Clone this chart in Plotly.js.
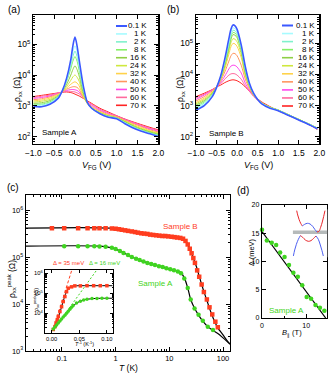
<!DOCTYPE html>
<html>
<head>
<meta charset="utf-8">
<script src="https://cdn.plot.ly/plotly-3.0.1.min.js"></script>
<style>
  html, body { margin: 0; padding: 0; background: #fff; }
  #fig { width: 332px; height: 390px; }
</style>
</head>
<body>
<div id="fig"></div>
<script>
// Gate-voltage sweeps (log10 of rho_xx), one row per temperature
const temps = ["0.1", "1", "2", "8", "16", "24", "32", "40", "50", "60", "70"];
const tempColors = ["#3b58ff", "#a6fbff", "#80f2cc", "#86f066", "#8fcf45", "#cfe83e",
                    "#ffd24a", "#ff9660", "#ff48ec", "#ff6a9e", "#ff2424"];

const vgA = [-1, -0.8, -0.6, -0.4, -0.3, -0.2, -0.1, -0.05, 0, 0.05, 0.1, 0.2, 0.3, 0.4, 0.6, 0.8, 1.0, 1.2, 1.5, 1.8, 2.0];
const logRhoA = [
  [2.98, 2.97, 3.05, 3.25, 3.5, 3.9, 4.5, 4.95, 5.23, 4.95, 4.5, 3.65, 3.1, 2.92, 2.74, 2.63, 2.58, 2.42, 2.22, 2.09, 2.0],
  [3.0, 3.0, 3.08, 3.28, 3.5, 3.85, 4.4, 4.75, 4.95, 4.75, 4.35, 3.6, 3.1, 2.92, 2.75, 2.64, 2.59, 2.44, 2.24, 2.1, 2.02],
  [3.02, 3.03, 3.1, 3.3, 3.5, 3.82, 4.3, 4.6, 4.78, 4.6, 4.25, 3.55, 3.1, 2.92, 2.75, 2.65, 2.6, 2.45, 2.25, 2.11, 2.04],
  [3.05, 3.06, 3.13, 3.32, 3.5, 3.8, 4.2, 4.45, 4.6, 4.45, 4.15, 3.5, 3.1, 2.93, 2.76, 2.66, 2.6, 2.46, 2.27, 2.13, 2.06],
  [3.08, 3.1, 3.17, 3.33, 3.48, 3.7, 4.0, 4.18, 4.3, 4.18, 3.97, 3.42, 3.08, 2.93, 2.77, 2.67, 2.61, 2.48, 2.29, 2.15, 2.08],
  [3.12, 3.15, 3.21, 3.35, 3.46, 3.63, 3.83, 3.94, 4.0, 3.93, 3.8, 3.35, 3.07, 2.94, 2.78, 2.68, 2.62, 2.5, 2.31, 2.17, 2.1],
  [3.16, 3.19, 3.25, 3.37, 3.46, 3.58, 3.7, 3.75, 3.78, 3.74, 3.65, 3.3, 3.07, 2.95, 2.8, 2.7, 2.63, 2.51, 2.34, 2.19, 2.12],
  [3.2, 3.23, 3.29, 3.39, 3.46, 3.54, 3.6, 3.62, 3.62, 3.6, 3.53, 3.28, 3.1, 2.98, 2.83, 2.72, 2.65, 2.53, 2.37, 2.22, 2.15],
  [3.24, 3.27, 3.32, 3.41, 3.46, 3.5, 3.53, 3.53, 3.52, 3.5, 3.45, 3.28, 3.12, 3.02, 2.86, 2.75, 2.66, 2.55, 2.39, 2.25, 2.17],
  [3.27, 3.31, 3.35, 3.42, 3.45, 3.47, 3.47, 3.46, 3.45, 3.42, 3.39, 3.27, 3.14, 3.05, 2.89, 2.77, 2.67, 2.56, 2.41, 2.27, 2.2],
  [3.3, 3.34, 3.38, 3.42, 3.44, 3.45, 3.43, 3.41, 3.38, 3.35, 3.32, 3.24, 3.16, 3.08, 2.92, 2.8, 2.68, 2.57, 2.43, 2.3, 2.22]
];

const vgB = [-1, -0.8, -0.6, -0.5, -0.4, -0.3, -0.2, -0.15, -0.1, -0.05, 0, 0.1, 0.2, 0.3, 0.4, 0.5, 0.6, 0.8, 1.0, 1.2, 1.5, 1.8, 1.95];
const logRhoB = [
  [2.86, 3.0, 3.3, 3.58, 3.95, 4.5, 5.15, 5.45, 5.59, 5.56, 5.45, 4.95, 4.25, 3.72, 3.4, 3.2, 3.06, 2.92, 2.84, 2.72, 2.54, 2.36, 2.26],
  [2.9, 3.04, 3.32, 3.58, 3.93, 4.45, 5.05, 5.35, 5.5, 5.47, 5.37, 4.9, 4.2, 3.7, 3.39, 3.2, 3.07, 2.93, 2.85, 2.73, 2.55, 2.37, 2.27],
  [2.94, 3.08, 3.35, 3.59, 3.92, 4.4, 4.97, 5.27, 5.42, 5.4, 5.3, 4.85, 4.15, 3.68, 3.38, 3.2, 3.08, 2.94, 2.85, 2.73, 2.55, 2.37, 2.27],
  [2.98, 3.12, 3.38, 3.59, 3.9, 4.35, 4.9, 5.2, 5.35, 5.33, 5.24, 4.8, 4.1, 3.66, 3.37, 3.2, 3.08, 2.94, 2.86, 2.74, 2.56, 2.38, 2.28],
  [3.02, 3.16, 3.4, 3.6, 3.88, 4.3, 4.85, 5.13, 5.28, 5.26, 5.18, 4.75, 4.05, 3.64, 3.36, 3.2, 3.08, 2.95, 2.86, 2.74, 2.56, 2.38, 2.28],
  [3.06, 3.2, 3.42, 3.6, 3.86, 4.25, 4.76, 5.02, 5.15, 5.13, 5.05, 4.65, 4.0, 3.62, 3.36, 3.2, 3.09, 2.95, 2.86, 2.74, 2.56, 2.38, 2.28],
  [3.1, 3.24, 3.45, 3.6, 3.84, 4.18, 4.65, 4.89, 5.0, 4.98, 4.9, 4.55, 3.95, 3.6, 3.35, 3.2, 3.09, 2.95, 2.86, 2.74, 2.56, 2.37, 2.27],
  [3.15, 3.29, 3.48, 3.6, 3.8, 4.08, 4.43, 4.6, 4.68, 4.67, 4.6, 4.3, 3.85, 3.55, 3.33, 3.19, 3.09, 2.95, 2.85, 2.73, 2.55, 2.37, 2.26],
  [3.2, 3.34, 3.5, 3.6, 3.75, 3.95, 4.18, 4.27, 4.3, 4.29, 4.24, 4.05, 3.72, 3.5, 3.32, 3.19, 3.09, 2.95, 2.85, 2.73, 2.55, 2.36, 2.25],
  [3.25, 3.37, 3.51, 3.6, 3.7, 3.85, 3.98, 4.02, 4.03, 4.02, 3.98, 3.85, 3.63, 3.46, 3.3, 3.18, 3.08, 2.95, 2.85, 2.72, 2.54, 2.36, 2.25],
  [3.29, 3.4, 3.52, 3.6, 3.66, 3.74, 3.8, 3.82, 3.83, 3.82, 3.8, 3.72, 3.6, 3.47, 3.35, 3.22, 3.12, 2.97, 2.84, 2.72, 2.55, 2.36, 2.24]
];

// Peak resistivity vs temperature
const tB = [0.065, 0.11, 0.2, 0.3, 0.4, 0.5, 0.65, 0.85, 1.0, 1.15, 1.3, 1.5, 1.7, 2.0, 2.3, 2.6, 3.0, 3.4, 3.9, 4.4, 5.0, 5.7, 6.5, 7.4, 8.4, 9.5, 11, 12.5, 14, 16, 18, 20, 22, 24, 26, 28, 30, 33, 36, 40, 44, 50, 56, 63, 72, 80];
const peakB = [4.1e5, 4.1e5, 4.1e5, 4.1e5, 4.1e5, 4.1e5, 4.1e5, 4.05e5, 4.0e5, 3.9e5, 3.8e5, 3.7e5, 3.6e5, 3.5e5, 3.4e5, 3.3e5, 3.2e5, 3.15e5, 3.1e5, 3.0e5, 2.95e5, 2.9e5, 2.85e5, 2.8e5, 2.8e5, 2.75e5, 2.7e5, 2.65e5, 2.6e5, 2.55e5, 2.45e5, 2.2e5, 1.85e5, 1.5e5, 1.2e5, 9.5e4, 7.5e4, 5.2e4, 3.8e4, 2.6e4, 1.8e4, 1.25e4, 8.5e3, 6.0e3, 4.2e3, 3.2e3];
const tFitB = [0.021, 1, 2, 5, 10, 15, 18, 20, 22, 25, 28, 32, 36, 40, 45, 50, 60, 70, 80, 100, 120, 135];
const peakFitB = [4.1e5, 4.05e5, 3.5e5, 2.95e5, 2.75e5, 2.6e5, 2.45e5, 2.25e5, 1.9e5, 1.35e5, 9.5e4, 6.2e4, 3.9e4, 2.6e4, 1.7e4, 1.2e4, 6.5e3, 4.2e3, 3.1e3, 2.2e3, 1.65e3, 1.4e3];

const tA = [0.11, 0.2, 0.3, 0.4, 0.5, 0.65, 0.85, 1.0, 1.2, 1.4, 1.7, 2.0, 2.4, 2.8, 3.3, 3.9, 4.6, 5.4, 6.4, 7.5, 8.8, 10.4, 12.2, 14.4, 16.5, 19, 22, 25, 29.5, 35, 42, 52, 65];
const peakA = [1.7e5, 1.7e5, 1.7e5, 1.7e5, 1.68e5, 1.65e5, 1.57e5, 1.48e5, 1.35e5, 1.22e5, 1.1e5, 1.0e5, 9.2e4, 8.6e4, 8.0e4, 7.5e4, 7.1e4, 6.8e4, 6.4e4, 6.1e4, 5.8e4, 5.5e4, 5.2e4, 4.9e4, 4.5e4, 3.5e4, 2.2e4, 1.25e4, 8.0e3, 5.9e3, 4.4e3, 3.3e3, 2.8e3];
const tFitA = [0.021, 0.5, 0.8, 1.2, 2, 3, 5, 8, 12, 16, 19, 22, 25, 30, 35, 42, 52, 65, 80, 100, 135];
const peakFitA = [1.7e5, 1.7e5, 1.58e5, 1.35e5, 1.0e5, 8.3e4, 7.0e4, 6.0e4, 5.3e4, 4.8e4, 3.6e4, 2.2e4, 1.25e4, 7.8e3, 5.8e3, 4.3e3, 3.3e3, 2.75e3, 2.35e3, 1.9e3, 1.4e3];

// Arrhenius inset (x = 1/T)
const invTB = [0.003, 0.006, 0.008, 0.0103, 0.012, 0.015, 0.018, 0.021, 0.024, 0.027, 0.03, 0.036, 0.042, 0.052, 0.064, 0.076, 0.088, 0.1];
const insetB = [1.5e3, 2.1e3, 3.2e3, 4.7e3, 6.8e3, 1.2e4, 2.1e4, 3.8e4, 6.8e4, 1.2e5, 1.8e5, 2.1e5, 2.35e5, 2.35e5, 2.4e5, 2.4e5, 2.4e5, 2.4e5];
const invTFitB = [0.003, 0.01, 0.02, 0.025, 0.03, 0.035, 0.04, 0.05, 0.06, 0.08, 0.11];
const insetFitB = [1.5e3, 4.0e3, 3.2e4, 8.9e4, 1.66e5, 2.1e5, 2.3e5, 2.4e5, 2.4e5, 2.4e5, 2.4e5];
const invTA = [0.003, 0.006, 0.009, 0.012, 0.015, 0.018, 0.021, 0.024, 0.027, 0.03, 0.033, 0.036, 0.039, 0.045, 0.052, 0.058, 0.064, 0.073, 0.082, 0.091, 0.1];
const insetA = [1.6e3, 2.0e3, 2.5e3, 3.2e3, 4.0e3, 5.0e3, 6.3e3, 7.9e3, 1.0e4, 1.26e4, 1.58e4, 2.0e4, 2.4e4, 3.2e4, 4.0e4, 4.6e4, 5.0e4, 5.4e4, 5.5e4, 5.6e4, 5.6e4];
const invTFitA = [0.003, 0.01, 0.02, 0.03, 0.04, 0.05, 0.06, 0.07, 0.08, 0.1, 0.11];
const insetFitA = [1.4e3, 2.5e3, 5.6e3, 1.26e4, 2.5e4, 3.8e4, 4.8e4, 5.2e4, 5.5e4, 5.6e4, 5.6e4];
const gapX = [0.002, 0.038, 0.085];
const gapRho = [1.26e3, 2.0e6, 2.0e6];
const gapLabels = ["Δ = 35 meV", "Δ = 16 meV"];

// Gap vs in-plane field
const bPar = [0, 1.1, 2.2, 3.2, 4.1, 5.1, 6.1, 7.1, 8.1, 9.1, 10.1, 11.1, 12.1, 13.1, 14.1];
const gapMeV = [15.6, 13.7, 13.3, 12.9, 11.6, 10.8, 9.4, 8.0, 7.3, 5.8, 3.7, 3.4, 2.3, 1.8, 1.3];
const bFit = [0, 14.4];
const gapFit = [15.3, 0];

// Band sketch in panel (d), arbitrary units
const upperL = { x: [20, 23, 27, 32, 37], y: [32, 45, 58, 70, 78] };
const upperM = { x: [37, 44, 52, 60, 68, 75, 81], y: [78, 73, 70, 72, 79, 89, 96] };
const upperR = { x: [81, 87, 92, 97, 101, 105], y: [96, 94, 82, 66, 50, 32] };
const lowerL = { x: [10, 14, 19, 25, 31], y: [168, 150, 133, 118, 107] };
const lowerM = { x: [31, 38, 46, 55, 63, 71, 78], y: [107, 112, 120, 124, 122, 115, 108] };
const lowerR = { x: [78, 85, 91, 96, 100], y: [108, 118, 135, 152, 168] };
const fermiX = [8, 112];
const fermiY = [97, 97];

const RED = "#ff3d1f", GREEN = "#3fd420";
const FONT = "Liberation Sans, Arial, sans-serif";
const W = 332, H = 390;
const px = x => x / W;
const py = y => 1 - y / H;
const dom = (a, b) => [px(a), px(b)];
const domY = (top, bot) => [py(bot), py(top)];
const sup = n => "10<sup>" + n + "</sup>";

function frame(extra) {
  return Object.assign({
    showline: true, linecolor: "black", linewidth: 1.3, mirror: "ticks",
    ticks: "inside", ticklen: 4, tickwidth: 1, tickcolor: "black",
    showgrid: false, zeroline: false, fixedrange: true,
    tickfont: { family: FONT, size: 8.5, color: "black" },
  }, extra);
}
const minorLog = { ticks: "inside", ticklen: 2, tickcolor: "black", dtick: "D1", showgrid: false };

const traces = [];

// (a) and (b): draw hottest first so the 0.1 K curve sits on top
for (let i = temps.length - 1; i >= 0; i--) {
  const w = i === 0 ? 1.6 : 1.0;
  traces.push({
    x: vgA, y: logRhoA[i].map(v => 10 ** v), xaxis: "x", yaxis: "y",
    mode: "lines", line: { color: tempColors[i], width: w, shape: "spline", smoothing: 0.8 },
    hoverinfo: "skip",
  });
  traces.push({
    x: vgB, y: logRhoB[i].map(v => 10 ** v), xaxis: "x2", yaxis: "y2",
    mode: "lines", line: { color: tempColors[i], width: w, shape: "spline", smoothing: 0.8 },
    hoverinfo: "skip",
  });
}

// (c) main
traces.push({ x: tFitB, y: peakFitB, xaxis: "x3", yaxis: "y3", mode: "lines",
  line: { color: "black", width: 1.2, shape: "spline" }, hoverinfo: "skip" });
traces.push({ x: tFitA, y: peakFitA, xaxis: "x3", yaxis: "y3", mode: "lines",
  line: { color: "black", width: 1.2, shape: "spline" }, hoverinfo: "skip" });
traces.push({ x: tB, y: peakB, xaxis: "x3", yaxis: "y3", mode: "markers",
  marker: { symbol: "square", size: 4.5, color: RED }, hoverinfo: "skip" });
traces.push({ x: tA, y: peakA, xaxis: "x3", yaxis: "y3", mode: "markers",
  marker: { symbol: "circle", size: 4.5, color: GREEN }, hoverinfo: "skip" });

// (c) inset
traces.push({ x: [gapX[0], gapX[1]], y: [gapRho[0], gapRho[1]], xaxis: "x4", yaxis: "y4", mode: "lines",
  line: { color: RED, width: 1, dash: "3px,2px" }, hoverinfo: "skip" });
traces.push({ x: [gapX[0], gapX[2]], y: [gapRho[0], gapRho[2]], xaxis: "x4", yaxis: "y4", mode: "lines",
  line: { color: GREEN, width: 1, dash: "2px,2px" }, hoverinfo: "skip" });
traces.push({ x: invTFitB, y: insetFitB, xaxis: "x4", yaxis: "y4", mode: "lines",
  line: { color: "black", width: 1, shape: "spline" }, hoverinfo: "skip" });
traces.push({ x: invTFitA, y: insetFitA, xaxis: "x4", yaxis: "y4", mode: "lines",
  line: { color: "black", width: 1, shape: "spline" }, hoverinfo: "skip" });
traces.push({ x: invTB, y: insetB, xaxis: "x4", yaxis: "y4", mode: "markers",
  marker: { symbol: "square", size: 3.5, color: RED }, hoverinfo: "skip" });
traces.push({ x: invTA, y: insetA, xaxis: "x4", yaxis: "y4", mode: "markers",
  marker: { symbol: "circle", size: 3.5, color: GREEN }, hoverinfo: "skip" });

// (d)
traces.push({ x: bFit, y: gapFit, xaxis: "x5", yaxis: "y5", mode: "lines",
  line: { color: "black", width: 1.2 }, hoverinfo: "skip" });
traces.push({ x: bPar, y: gapMeV, xaxis: "x5", yaxis: "y5", mode: "markers", cliponaxis: false,
  marker: { symbol: "circle", size: 4.5, color: GREEN }, hoverinfo: "skip" });

// (d) band sketch
traces.push({ x: fermiX, y: fermiY, xaxis: "x6", yaxis: "y6", mode: "lines",
  line: { color: "#b5baba", width: 3.5 }, hoverinfo: "skip" });
[[upperL, "#e8262a"], [upperM, "#4d5ff0"], [upperR, "#e8262a"],
 [lowerL, "#4d5ff0"], [lowerM, "#e8262a"], [lowerR, "#4d5ff0"]].forEach(([seg, c]) => {
  traces.push({ x: seg.x, y: seg.y, xaxis: "x6", yaxis: "y6", mode: "lines",
    line: { color: c, width: 1, shape: "spline" }, hoverinfo: "skip" });
});

// Manual legends (Plotly's legend rows are too tall for this size)
const shapes = [];
const annotations = [];
function note(text, x, y, opts) {
  annotations.push(Object.assign({
    text, x: px(x), y: py(y), xref: "paper", yref: "paper", showarrow: false,
    xanchor: "center", yanchor: "middle",
    font: { family: FONT, size: 8, color: "black" },
  }, opts));
}
function legendBlock(x0, x1, xText, y0, step) {
  temps.forEach((t, i) => {
    const y = y0 + i * step;
    shapes.push({ type: "line", xref: "paper", yref: "paper",
      x0: px(x0), x1: px(x1), y0: py(y), y1: py(y),
      line: { color: tempColors[i], width: i === 0 ? 2 : 1.6 } });
    note(t + " K", xText, y, { xanchor: "right" });
  });
}
legendBlock(116, 127, 148.5, 26, 7.93);
legendBlock(282, 293, 317, 25.5, 8.05);

// Panel labels and titles
note("(a)", 14, 9, { font: { family: FONT, size: 10, color: "black" } });
note("(b)", 173, 9, { font: { family: FONT, size: 10, color: "black" } });
note("(c)", 13, 187, { font: { family: FONT, size: 10, color: "black" } });
note("(d)", 243, 190, { font: { family: FONT, size: 10, color: "black" } });

note("ρ<sub>xx</sub> (Ω)", 17, 90, { textangle: -90, font: { family: FONT, size: 8.5, color: "black" } });
note("ρ<sub>xx</sub> (Ω)", 180, 90, { textangle: -90, font: { family: FONT, size: 8.5, color: "black" } });
note("<i>V</i><sub>FG</sub> (V)", 96, 165, { font: { family: FONT, size: 9, color: "black" } });
note("<i>V</i><sub>FG</sub> (V)", 258, 165, { font: { family: FONT, size: 9, color: "black" } });
note("Sample A", 59, 132);
note("Sample B", 226, 133);

note("ρ<sub>xx</sub><sup>peak</sup> (Ω)", 11, 279, { textangle: -90, font: { family: FONT, size: 8.5, color: "black" } });
note("<i>T</i> (K)", 128, 368, { font: { family: FONT, size: 8.5, color: "black" } });
note("Sample B", 180, 226, { font: { family: FONT, size: 8, color: RED } });
note("Sample A", 155, 283, { font: { family: FONT, size: 8, color: GREEN } });
note(gapLabels[0], 68, 263, { font: { family: FONT, size: 6, color: RED } });
note(gapLabels[1], 104, 263, { font: { family: FONT, size: 6, color: GREEN } });
note("ρ<sub>xx</sub><sup>peak</sup>(Ω)", 36, 300, { textangle: -90, font: { family: FONT, size: 5.5, color: "black" } });
note("<i>T</i><sup>-1</sup> (K<sup>-1</sup>)", 84, 344, { font: { family: FONT, size: 5.5, color: "black" } });

note("Δ (meV)", 251, 252, { textangle: -90, font: { family: FONT, size: 7.5, color: "black" } });
note("<i>B</i><sub>∥</sub> (T)", 292, 333, { font: { family: FONT, size: 7.5, color: "black" } });
note("Sample A", 286, 310, { font: { family: FONT, size: 8, color: GREEN } });

const layout = {
  width: W, height: H,
  margin: { l: 0, r: 0, t: 0, b: 0 },
  paper_bgcolor: "white", plot_bgcolor: "white",
  showlegend: false,
  font: { family: FONT, size: 8.5, color: "black" },
  // (a)
  xaxis: frame({ domain: dom(33.3, 158.3), anchor: "y", range: [-1, 2], dtick: 0.5, tick0: 0, tickformat: ".1f" }),
  yaxis: frame({ domain: domY(15, 144), anchor: "x", type: "log", range: [1.76, 5.95],
    tickmode: "array", tickvals: [1e2, 1e3, 1e4, 1e5], ticktext: [sup(2), sup(3), sup(4), sup(5)], minor: minorLog }),
  // (b)
  xaxis2: frame({ domain: dom(196, 319.3), anchor: "y2", range: [-1, 2], dtick: 0.5, tick0: 0, tickformat: ".1f" }),
  yaxis2: frame({ domain: domY(15, 144), anchor: "x2", type: "log", range: [1.77, 5.91],
    tickmode: "array", tickvals: [1e2, 1e3, 1e4, 1e5], ticktext: [sup(2), sup(3), sup(4), sup(5)], minor: minorLog }),
  // (c)
  xaxis3: frame({ domain: dom(26, 230), anchor: "y3", type: "log", range: [-1.67, 2.13],
    tickmode: "array", tickvals: [0.1, 1, 10, 100], ticktext: ["0.1", "1", "10", "100"], minor: minorLog,
    tickfont: { family: FONT, size: 7.5, color: "black" } }),
  yaxis3: frame({ domain: domY(195, 351), anchor: "x3", type: "log", range: [3, 6.32],
    tickmode: "array", tickvals: [1e3, 1e4, 1e5, 1e6], ticktext: [sup(3), sup(4), sup(5), sup(6)], minor: minorLog,
    tickfont: { family: FONT, size: 7.5, color: "black" } }),
  // (c) inset
  xaxis4: frame({ domain: dom(45, 113), anchor: "y4", range: [-0.012, 0.111], linewidth: 1.1,
    tickmode: "array", tickvals: [0, 0.05, 0.1], ticktext: ["0.00", "0.05", "0.10"], ticklen: 3,
    tickfont: { family: FONT, size: 5.8, color: "black" } }),
  yaxis4: frame({ domain: domY(270, 333), anchor: "x4", type: "log", range: [3.0, 6.17], linewidth: 1.1,
    tickmode: "array", tickvals: [1e4, 1e5, 1e6], ticktext: [sup(4), sup(5), sup(6)], ticklen: 3,
    minor: { ticks: "inside", ticklen: 1.5, tickcolor: "black", dtick: "D1", showgrid: false },
    tickfont: { family: FONT, size: 5.8, color: "black" } }),
  // (d)
  xaxis5: frame({ domain: dom(262, 327), anchor: "y5", range: [0, 14.7], dtick: 10, tick0: 0,
    minor: { ticks: "inside", ticklen: 2, tickcolor: "black", dtick: 5, showgrid: false },
    tickfont: { family: FONT, size: 7, color: "black" } }),
  yaxis5: frame({ domain: domY(205, 318), anchor: "x5", range: [0, 20], dtick: 5, tick0: 0,
    tickfont: { family: FONT, size: 7, color: "black" } }),
  // (d) band sketch
  xaxis6: { domain: dom(292.7, 327.3), anchor: "y6", range: [8, 112], visible: false, fixedrange: true },
  yaxis6: { domain: domY(209.3, 257.3), anchor: "x6", range: [172, 28], visible: false, fixedrange: true },
  shapes, annotations,
};

Plotly.newPlot("fig", traces, layout, { staticPlot: true, displayModeBar: false });
</script>
</body>
</html>
